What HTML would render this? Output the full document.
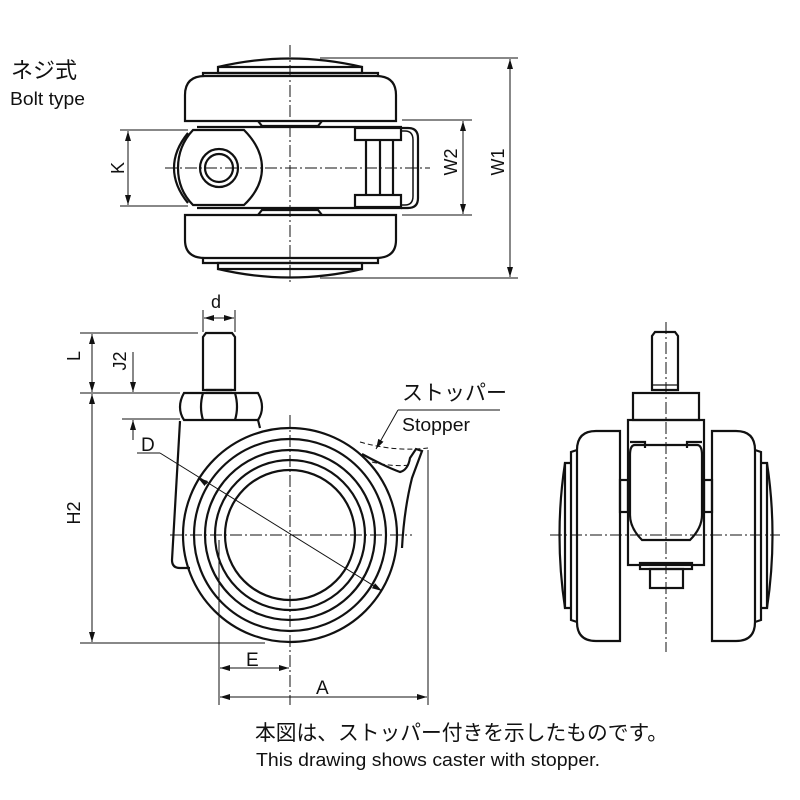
<!DOCTYPE html>
<html><head><meta charset="utf-8"><style>
html,body{margin:0;padding:0;background:#fff;}
svg{display:block;}
text{font-family:"Liberation Sans","Noto Sans CJK JP",sans-serif;fill:#111;}
</style></head><body>
<svg width="800" height="800" viewBox="0 0 800 800" xmlns="http://www.w3.org/2000/svg">
<defs>
<marker id="ar" viewBox="0 0 10 6" refX="10" refY="3" markerWidth="10" markerHeight="6" orient="auto-start-reverse" markerUnits="userSpaceOnUse"><path d="M0,0 L10,3 L0,6 z" fill="#111"/></marker>
</defs>
<g fill="none" stroke="#111" stroke-width="2.2">
<!-- TOP VIEW -->
<path d="M218,67 Q290,50 362,67"/>
<rect x="218" y="67" width="144" height="6"/>
<path d="M203,76 L203,73 L378,73 L378,76"/>
<path d="M185,121 L185,95 Q185,76 205,76 L376,76 Q396,76 396,95 L396,121 Z"/>
<path d="M258,121 L262,126 L318,126 L322,121"/>
<line x1="197" y1="127" x2="402" y2="127"/>
<line x1="197" y1="208" x2="402" y2="208"/>
<path d="M258,215 L262,210 L318,210 L322,215"/>
<path d="M185,215 L396,215 L396,240 Q396,258 376,258 L205,258 Q185,258 185,240 Z"/>
<path d="M203,258 L203,263 L378,263 L378,258"/>
<rect x="218" y="263" width="144" height="6"/>
<path d="M218,269 Q290,286 362,269"/>
<!-- knuckle -->
<path d="M193,130 L244,130 Q262,148 262,168 Q262,188 244,205 L193,205 Q178,190 178,168 Q178,146 193,130 Z"/>
<path d="M188,133 Q174,150 174,168 Q174,186 188,203"/>
<circle cx="219" cy="168" r="19"/>
<circle cx="219" cy="168" r="14"/>
<!-- stopper -->
<rect x="355" y="128" width="46" height="12"/>
<rect x="355" y="195" width="46" height="12"/>
<line x1="366" y1="140" x2="366" y2="195"/>
<line x1="380" y1="140" x2="380" y2="195"/>
<line x1="393" y1="140" x2="393" y2="195"/>
<path d="M401,128 L408,128 Q418,128 418,138 L418,198 Q418,208 408,208 L401,208"/>
<path d="M401,131 L405,131 Q413,131 413,140 L413,196 Q413,205 405,205 L401,205" stroke-width="1.5"/>
</g>
<g stroke="#111" stroke-width="1" fill="none">
<line x1="290" y1="45" x2="290" y2="285" stroke-dasharray="12,3,2,3"/>
<line x1="165" y1="168" x2="430" y2="168" stroke-dasharray="12,3,2,3"/>
<line x1="120" y1="130" x2="188" y2="130"/>
<line x1="120" y1="206" x2="188" y2="206"/>
<line x1="128" y1="131" x2="128" y2="205" marker-start="url(#ar)" marker-end="url(#ar)"/>
<line x1="402" y1="120" x2="472" y2="120"/>
<line x1="402" y1="215" x2="472" y2="215"/>
<line x1="463" y1="121" x2="463" y2="214" marker-start="url(#ar)" marker-end="url(#ar)"/>
<line x1="320" y1="58" x2="518" y2="58"/>
<line x1="320" y1="278" x2="518" y2="278"/>
<line x1="510" y1="59" x2="510" y2="277" marker-start="url(#ar)" marker-end="url(#ar)"/>
</g>
<text x="118" y="174" font-size="18" transform="rotate(-90 118 168)" text-anchor="middle">K</text>
<text x="457" y="174" font-size="18" transform="rotate(-90 451 168)" text-anchor="middle">W2</text>
<text x="504" y="174" font-size="18" transform="rotate(-90 498 168)" text-anchor="middle">W1</text>

<!-- SIDE VIEW -->
<g fill="none" stroke="#111" stroke-width="2.2">
<path d="M206,333 L232,333 L235,337 L235,390 L203,390 L203,337 Z"/>
<line x1="206" y1="390" x2="232" y2="390"/>
<path d="M184,393 L258,393 Q262,400 262,407 Q262,414 258,420 L184,420 Q180,414 180,407 Q180,400 184,393 Z"/>
<path d="M203,393 Q199,407 203,420 M235,393 Q239,407 235,420"/>
<path d="M180,421 L172,560 Q172,568 180,568 L190,568"/>
<line x1="258" y1="420" x2="260" y2="428"/>
<circle cx="290" cy="535" r="107"/>
<circle cx="290" cy="535" r="96"/>
<circle cx="290" cy="535" r="85"/>
<circle cx="290" cy="535" r="75"/>
<circle cx="290" cy="535" r="65"/>
<path d="M362,454 Q384,466 400,472 Q408,470 410,458 L416,449 L422,451 L412,478 Q404,510 402,548"/>
</g>
<g stroke="#111" stroke-width="1" fill="none">
<path d="M360,442 Q395,452 428,448" stroke-dasharray="5,3"/>
<path d="M372,462 Q392,467 410,465" stroke-dasharray="5,3"/>
<line x1="290" y1="415" x2="290" y2="705" stroke-dasharray="12,3,2,3"/>
<line x1="170" y1="535" x2="412" y2="535" stroke-dasharray="12,3,2,3"/>
<line x1="203" y1="310" x2="203" y2="332"/>
<line x1="235" y1="310" x2="235" y2="332"/>
<line x1="204" y1="318" x2="234" y2="318" marker-start="url(#ar)" marker-end="url(#ar)"/>
<line x1="80" y1="333" x2="198" y2="333"/>
<line x1="80" y1="393" x2="180" y2="393"/>
<line x1="92" y1="334" x2="92" y2="392" marker-start="url(#ar)" marker-end="url(#ar)"/>
<line x1="92" y1="394" x2="92" y2="642" marker-start="url(#ar)" marker-end="url(#ar)"/>
<line x1="80" y1="643" x2="265" y2="643"/>
<line x1="122" y1="419" x2="180" y2="419"/>
<line x1="133" y1="352" x2="133" y2="392" marker-end="url(#ar)"/>
<line x1="133" y1="440" x2="133" y2="420" marker-end="url(#ar)"/>
<line x1="137" y1="453" x2="160" y2="453"/>
<line x1="160" y1="453" x2="382" y2="591" marker-end="url(#ar)"/>
<line x1="207" y1="484" x2="198" y2="478" marker-end="url(#ar)"/>
<line x1="219" y1="540" x2="219" y2="705"/>
<line x1="428" y1="450" x2="428" y2="705"/>
<line x1="220" y1="668" x2="289" y2="668" marker-start="url(#ar)" marker-end="url(#ar)"/>
<line x1="220" y1="697" x2="427" y2="697" marker-start="url(#ar)" marker-end="url(#ar)"/>
<line x1="398" y1="410" x2="500" y2="410"/>
<line x1="398" y1="410" x2="376" y2="449" marker-end="url(#ar)"/>
</g>
<text x="211" y="308" font-size="18">d</text>
<text x="87" y="363" font-size="18" transform="rotate(-90 80 363)" text-anchor="middle">L</text>
<text x="130" y="369" font-size="18" transform="rotate(-90 124 367)" text-anchor="middle">J2</text>
<text x="87" y="520" font-size="18" transform="rotate(-90 80 520)" text-anchor="middle">H2</text>
<text x="141" y="451" font-size="19">D</text>
<text x="246" y="666" font-size="19">E</text>
<text x="316" y="694" font-size="19">A</text>
<text x="402" y="400" font-size="21">ストッパー</text>
<text x="402" y="431" font-size="18" textLength="68" lengthAdjust="spacingAndGlyphs">Stopper</text>

<!-- FRONT VIEW -->
<g fill="none" stroke="#111" stroke-width="2.2">
<path d="M655,332 L675,332 L678,336 L678,390 L652,390 L652,336 Z"/>
<line x1="652" y1="385" x2="678" y2="385" stroke-width="1.2"/>
<rect x="633" y="393" width="66" height="27"/>
<rect x="628" y="420" width="76" height="145"/>
<path d="M635,445 Q630,445 630,455 L630,515 Q630,528 642,540 L690,540 Q702,528 702,515 L702,455 Q702,445 697,445 Z"/>
<path d="M630,442 L645,442 L645,448 M702,442 L687,442 L687,448"/>
<rect x="620" y="480" width="8" height="32"/>
<rect x="704" y="480" width="8" height="32"/>
<rect x="640" y="563" width="52" height="6"/>
<rect x="650" y="569" width="33" height="19"/>
<path d="M620,431 L596,431 Q577,431 577,450 L577,622 Q577,641 596,641 L620,641 Z"/>
<path d="M577,450 L571,452 L571,620 L577,622"/>
<path d="M571,463 L565,463 L565,608 L571,608"/>
<path d="M565,463 Q554,535 565,608"/>
<path d="M712,431 L736,431 Q755,431 755,450 L755,622 Q755,641 736,641 L712,641 Z"/>
<path d="M755,450 L761,452 L761,620 L755,622"/>
<path d="M761,463 L767,463 L767,608 L761,608"/>
<path d="M767,463 Q778,535 767,608"/>
</g>
<g stroke="#111" stroke-width="1" fill="none">
<line x1="666" y1="322" x2="666" y2="652" stroke-dasharray="12,3,2,3"/>
<line x1="550" y1="535" x2="780" y2="535" stroke-dasharray="12,3,2,3"/>
</g>

<text x="11" y="78" font-size="22">ネジ式</text>
<text x="10" y="105" font-size="18" textLength="75" lengthAdjust="spacingAndGlyphs">Bolt type</text>
<text x="255" y="740" font-size="21" textLength="413" lengthAdjust="spacingAndGlyphs">本図は、ストッパー付きを示したものです。</text>
<text x="256" y="766" font-size="18" textLength="344" lengthAdjust="spacingAndGlyphs">This drawing shows caster with stopper.</text>
</svg>
</body></html>
